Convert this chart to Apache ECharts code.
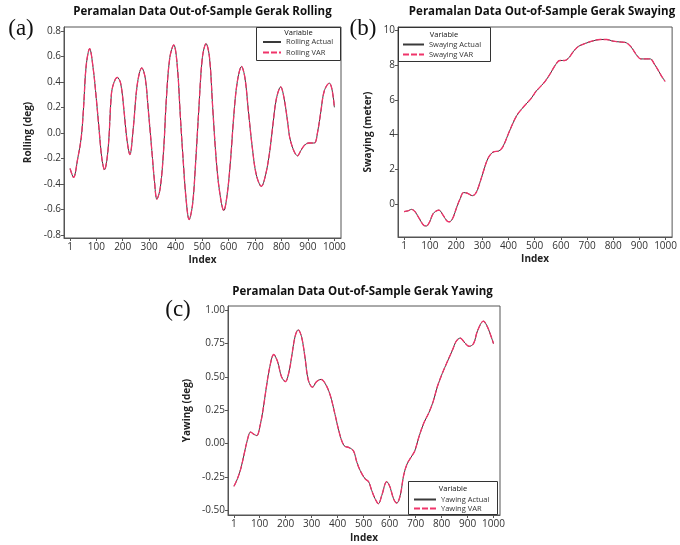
<!DOCTYPE html>
<html><head><meta charset="utf-8">
<script src="https://cdn.jsdelivr.net/npm/echarts@6/dist/echarts.min.js"></script>
<style>html,body{margin:0;padding:0;background:#fff}#c{width:680px;height:545px}</style>
</head><body><div id="c"></div>
<script>
const xTicks = [1,100,200,300,400,500,600,700,800,900,1000];
const rollTicks = [-0.8,-0.6,-0.4,-0.2,0,0.2,0.4,0.6,0.8];
const swayTicks = [0,2,4,6,8,10];
const yawTicks = [-0.5,-0.25,0,0.25,0.5,0.75,1];

const rollIdx = [1,14,30,43,52,62,75,88,100,110,121,131,145,157,166,179,192,205,215,227,240,255,272,285,297,310,320,329,342,355,365,378,393,406,418,428,439,451,464,475,488,501,515,528,540,553,566,582,595,608,620,633,649,662,675,690,705,724,740,756,768,781,797,810,823,835,861,873,886,903,924,937,949,962,981,991,1000];
const rollActual = [-0.28,-0.35,-0.20,-0.04,0.20,0.53,0.66,0.51,0.27,0.04,-0.20,-0.29,-0.12,0.30,0.39,0.435,0.39,0.17,-0.04,-0.17,0.04,0.38,0.51,0.43,0.17,-0.14,-0.38,-0.52,-0.43,-0.12,0.27,0.59,0.69,0.53,0.12,-0.20,-0.51,-0.68,-0.56,-0.25,0.20,0.59,0.70,0.59,0.20,-0.20,-0.46,-0.61,-0.48,-0.20,0.14,0.40,0.52,0.43,0.17,-0.12,-0.33,-0.42,-0.33,-0.14,0.07,0.27,0.36,0.27,0.09,-0.07,-0.18,-0.14,-0.10,-0.08,-0.08,0.01,0.17,0.33,0.39,0.34,0.20];
const rollVAR = [-0.28,-0.35,-0.20,-0.04,0.20,0.53,0.66,0.51,0.27,0.04,-0.20,-0.29,-0.12,0.30,0.39,0.435,0.39,0.17,-0.04,-0.17,0.04,0.38,0.51,0.43,0.17,-0.14,-0.38,-0.52,-0.43,-0.12,0.27,0.59,0.69,0.53,0.12,-0.20,-0.51,-0.68,-0.56,-0.25,0.20,0.59,0.70,0.59,0.20,-0.20,-0.46,-0.61,-0.48,-0.20,0.14,0.40,0.52,0.43,0.17,-0.12,-0.33,-0.42,-0.33,-0.14,0.07,0.27,0.36,0.27,0.09,-0.07,-0.18,-0.14,-0.10,-0.08,-0.08,0.01,0.17,0.33,0.39,0.34,0.20];

const swayIdx = [1,15,30,43,59,75,86,99,113,134,150,165,175,188,203,216,228,244,262,275,288,304,322,341,364,379,398,417,432,448,467,486,505,523,542,561,580,596,615,630,649,668,693,719,750,775,800,825,850,869,888,906,926,942,957,974,985,998];
const swayActual = [-0.44,-0.40,-0.31,-0.44,-0.83,-1.21,-1.27,-1.02,-0.54,-0.35,-0.64,-0.98,-1.02,-0.79,-0.15,0.33,0.66,0.62,0.48,0.62,1.10,1.87,2.64,2.99,3.06,3.31,3.99,4.66,5.11,5.43,5.76,6.07,6.49,6.78,7.11,7.55,8.03,8.27,8.27,8.42,8.81,9.09,9.25,9.38,9.48,9.48,9.38,9.34,9.29,9.04,8.61,8.36,8.36,8.36,8.07,7.65,7.36,7.07];
const swayVAR = [-0.44,-0.40,-0.31,-0.44,-0.83,-1.21,-1.27,-1.02,-0.54,-0.35,-0.64,-0.98,-1.02,-0.79,-0.15,0.33,0.66,0.62,0.48,0.62,1.10,1.87,2.64,2.99,3.06,3.31,3.99,4.66,5.11,5.43,5.76,6.07,6.49,6.78,7.11,7.55,8.03,8.27,8.27,8.42,8.81,9.09,9.25,9.38,9.48,9.48,9.38,9.34,9.29,9.04,8.61,8.36,8.36,8.36,8.07,7.65,7.36,7.07];

const yawIdx = [1,14,27,40,53,65,78,89,101,113,126,139,154,169,184,199,212,223,236,248,261,274,287,303,319,336,352,371,390,410,426,444,461,474,487,506,519,531,544,557,570,589,602,615,628,641,654,667,682,697,712,732,751,768,784,803,822,842,857,872,887,906,923,939,961,977,1000];
const yawActual = [-0.32,-0.265,-0.19,-0.08,0.03,0.086,0.069,0.06,0.13,0.254,0.427,0.575,0.667,0.612,0.50,0.464,0.53,0.65,0.80,0.852,0.80,0.65,0.476,0.422,0.464,0.48,0.45,0.365,0.217,0.056,-0.018,-0.03,-0.055,-0.14,-0.203,-0.265,-0.285,-0.35,-0.413,-0.45,-0.388,-0.285,-0.327,-0.413,-0.445,-0.388,-0.24,-0.154,-0.104,-0.055,0.044,0.155,0.23,0.316,0.427,0.526,0.612,0.70,0.768,0.79,0.76,0.728,0.748,0.847,0.916,0.872,0.748];
const yawVAR = [-0.32,-0.265,-0.19,-0.08,0.03,0.086,0.069,0.06,0.13,0.254,0.427,0.575,0.667,0.612,0.50,0.464,0.53,0.65,0.80,0.852,0.80,0.65,0.476,0.422,0.464,0.48,0.45,0.365,0.217,0.056,-0.018,-0.03,-0.055,-0.14,-0.203,-0.265,-0.285,-0.35,-0.413,-0.45,-0.388,-0.285,-0.327,-0.413,-0.445,-0.388,-0.24,-0.154,-0.104,-0.055,0.044,0.155,0.23,0.316,0.427,0.526,0.612,0.70,0.768,0.79,0.76,0.728,0.748,0.847,0.916,0.872,0.748];

const SANS = '"Open Sans", "DejaVu Sans", sans-serif';
const ACT = '#3a3a3a', VARC = '#f0346a';
const pairs = (xs, ys) => xs.map((x, i) => [x, ys[i]]);

function xAx(gi, gap) {
  return {
    type: 'value', gridIndex: gi, min: -22, max: 1025,
    name: 'Index', nameLocation: 'middle', nameGap: gap,
    nameTextStyle: {fontFamily: SANS, fontWeight: 'bold', fontSize: 10, color: '#222'},
    axisLine: {show: true, onZero: false, lineStyle: {color: '#555', width: 1}},
    axisTick: {show: true, length: 3, customValues: xTicks, lineStyle: {color: '#555'}},
    axisLabel: {customValues: xTicks, fontFamily: SANS, fontSize: 10, color: '#333', margin: 4,
      formatter: v => String(v)},
    splitLine: {show: false}
  };
}
function yAx(gi, name, min, max, ticks, dec, gap) {
  return {
    type: 'value', gridIndex: gi, min: min, max: max,
    name: name, nameLocation: 'middle', nameGap: gap,
    nameTextStyle: {fontFamily: SANS, fontWeight: 'bold', fontSize: 10, color: '#222'},
    axisLine: {show: true, onZero: false, lineStyle: {color: '#555', width: 1}},
    axisTick: {show: true, length: 3, customValues: ticks, lineStyle: {color: '#555'}},
    axisLabel: {customValues: ticks, fontFamily: SANS, fontSize: 10, color: '#333', margin: 3,
      formatter: v => Number(v).toFixed(dec)},
    splitLine: {show: false}
  };
}
function ser(name, xi, xs, ys, color, dashed) {
  return {
    name: name, type: 'line', xAxisIndex: xi, yAxisIndex: xi,
    data: pairs(xs, ys), smooth: 0.35, symbol: 'none', animation: false,
    lineStyle: {color: color, width: dashed ? 1.3 : 1, type: dashed ? [6, 2] : 'solid'},
    itemStyle: {color: color}, z: dashed ? 3 : 2
  };
}
function legendAt(names, left, top, iw, gap) {
  return {
    data: names, orient: 'vertical', left: left, top: top, padding: 0,
    itemWidth: iw, itemHeight: 9, itemGap: gap, itemTextGap: 5,
    itemStyle: {opacity: 0, borderWidth: 0},
    textStyle: {fontFamily: SANS, fontSize: 7.5, color: '#333'}
  };
}
function gtext(x, y, s, font) {
  return {type: 'text', x: x, y: y, style: {text: s, font: font, fill: '#111', align: 'center', verticalAlign: 'middle'}, z: 10};
}
function box(x, y, w, h) {
  return {type: 'rect', shape: {x: x, y: y, width: w, height: h}, style: {fill: 'none', stroke: '#333', lineWidth: 1}, z: 10};
}

const chart = echarts.init(document.getElementById('c'), null, {renderer: 'canvas'});
chart.setOption({
  backgroundColor: '#fff',
  animation: false,
  grid: [
    {left: 64, top: 27, width: 277, height: 211, show: true, borderColor: '#555', borderWidth: 1, containLabel: false},
    {left: 398, top: 27, width: 277, height: 210, show: true, borderColor: '#555', borderWidth: 1, containLabel: false},
    {left: 228, top: 306, width: 272, height: 209, show: true, borderColor: '#555', borderWidth: 1, containLabel: false}
  ],
  xAxis: [xAx(0, 17), xAx(1, 17), xAx(2, 18)],
  yAxis: [
    yAx(0, 'Rolling (deg)', -0.825, 0.83, rollTicks, 1, 31),
    yAx(1, 'Swaying (meter)', -1.9, 10.2, swayTicks, 0, 25),
    yAx(2, 'Yawing (deg)', -0.535, 1.03, yawTicks, 2, 36)
  ],
  legend: [
    legendAt(['Rolling Actual', 'Rolling VAR'], 262, 38, 18, 2.5),
    legendAt(['Swaying Actual', 'Swaying VAR'], 402, 40.5, 21, 2),
    legendAt(['Yawing Actual', 'Yawing VAR'], 413, 495.5, 22, 1)
  ],
  series: [
    ser('Rolling Actual', 0, rollIdx, rollActual, ACT, false),
    ser('Rolling VAR', 0, rollIdx, rollVAR, VARC, true),
    ser('Swaying Actual', 1, swayIdx, swayActual, ACT, false),
    ser('Swaying VAR', 1, swayIdx, swayVAR, VARC, true),
    ser('Yawing Actual', 2, yawIdx, yawActual, ACT, false),
    ser('Yawing VAR', 2, yawIdx, yawVAR, VARC, true)
  ],
  graphic: [
    gtext(202.5, 12, 'Peramalan Data Out-of-Sample Gerak Rolling', 'bold 11.5px ' + SANS),
    gtext(542, 12, 'Peramalan Data Out-of-Sample Gerak Swaying', 'bold 11.5px ' + SANS),
    gtext(362.5, 292, 'Peramalan Data Out-of-Sample Gerak Yawing', 'bold 11.5px ' + SANS),
    gtext(21, 29, '(a)', '23px "Liberation Serif", serif'),
    gtext(363, 29, '(b)', '23px "Liberation Serif", serif'),
    gtext(178, 310, '(c)', '23px "Liberation Serif", serif'),
    box(256.5, 27.5, 84, 33),
    box(398.5, 27.5, 92, 34),
    box(408.5, 481.5, 89, 33),
    gtext(298.5, 32.5, 'Variable', '7.5px ' + SANS),
    gtext(444, 35, 'Variable', '7.5px ' + SANS),
    gtext(453, 489, 'Variable', '7.5px ' + SANS)
  ]
});
</script>
</body></html>
